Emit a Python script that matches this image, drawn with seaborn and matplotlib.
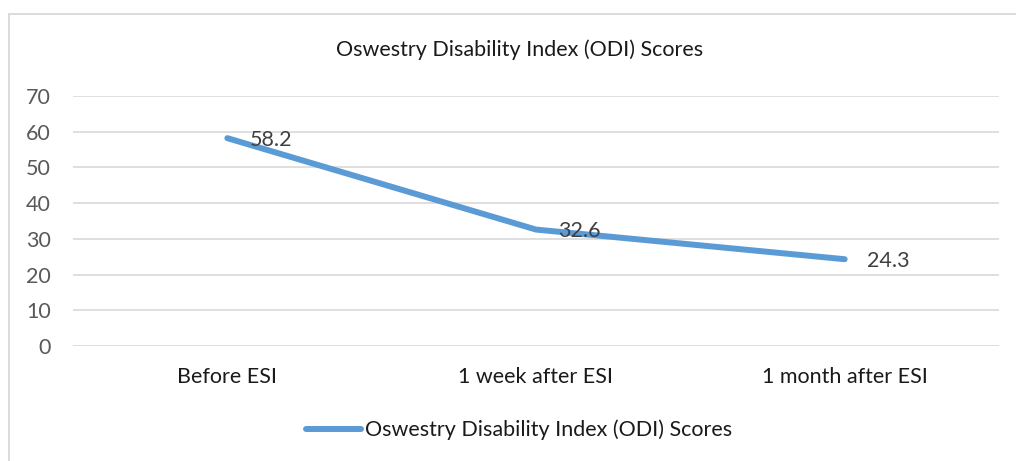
import matplotlib
matplotlib.use("Agg")
import matplotlib.pyplot as plt
import seaborn as sns
import pandas as pd
from matplotlib.patches import Rectangle
from matplotlib.lines import Line2D

categories = ["Before ESI", "1 week after ESI", "1 month after ESI"]
odi_scores = [58.2, 32.6, 24.3]
series_name = "Oswestry Disability Index (ODI) Scores"
title_text = "Oswestry Disability Index (ODI) Scores"
y_ticks = [0, 10, 20, 30, 40, 50, 60, 70]

sns.set_theme(style="white")
plt.rcParams["font.family"] = ["Lato", "DejaVu Sans"]

df = pd.DataFrame({"Time": categories, "ODI": odi_scores, "Series": series_name})

W, H = 1016, 461
FS = 15.5
fig = plt.figure(figsize=(W / 100, H / 100), dpi=100)
fig.patch.set_facecolor("white")

# outer chart border (light gray)
fig.patches.append(Rectangle((9 / W, -0.1), 1.2, 1 - 14 / H + 0.1, transform=fig.transFigure,
                             fill=False, edgecolor="#d9d9d9", linewidth=1.3))

ax = fig.add_axes([73 / W, 1 - 346 / H, 926 / W, 250 / H])
line_color = "#5B9BD5"
sns.lineplot(data=df, x="Time", y="ODI", hue="Series", palette=[line_color], ax=ax,
             linewidth=4.3, sort=False, legend=False,
             solid_capstyle="round", solid_joinstyle="round")

ax.set_xlim(-0.5, 2.5)
ax.set_ylim(0, 70)
ax.set_yticks(y_ticks)
ax.set_yticklabels([str(t) for t in y_ticks], color="#595959", fontsize=FS)
ax.set_xticks(range(len(categories)))
ax.set_xticklabels(categories, color="#1a1a1a", fontsize=FS)
ax.tick_params(axis="y", length=0, pad=16)
ax.tick_params(axis="x", length=0, pad=15)
ax.set_xlabel("")
ax.set_ylabel("")
for s in ax.spines.values():
    s.set_visible(False)
ax.grid(axis="y", color="#d9d9d9", linewidth=1.2)
ax.set_axisbelow(True)

for i, v in enumerate(odi_scores):
    ax.annotate(f"{v}", xy=(i, v), xytext=(16, -1), textcoords="offset points",
                ha="left", va="center", fontsize=FS, color="#404040")

fig.text(520 / W, 1 - 50 / H, title_text, ha="center", va="center",
         fontsize=FS, color="#1a1a1a")

handle = Line2D([0], [0], color=line_color, linewidth=4.3, solid_capstyle="round")
fig.legend([handle], [series_name], loc="center", bbox_to_anchor=(519 / W, 1 - 430 / H),
           frameon=False, fontsize=FS, handlelength=2.55, handletextpad=0.2,
           labelcolor="#1a1a1a")

fig.savefig("out.png", dpi=100, facecolor="white")
